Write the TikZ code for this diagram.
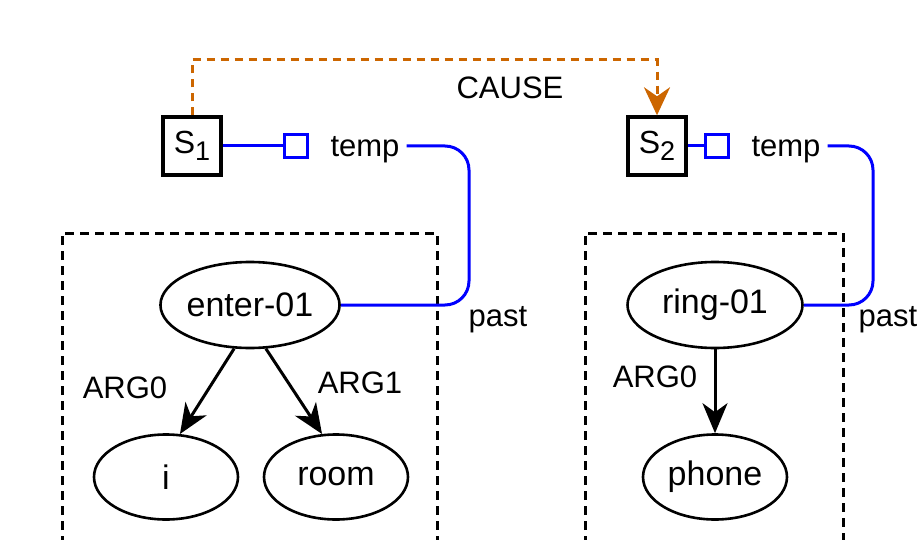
\documentclass[tikz,border=0pt]{standalone}
\usepackage{fontspec}
\setmainfont{Liberation Sans}
\usetikzlibrary{shapes.geometric,arrows.meta}
\definecolor{cause}{HTML}{CC6600}
\newcommand{\sidx}[1]{\raisebox{-0.45ex}{\fontsize{13.5}{14}\selectfont #1}}

\begin{document}
\begin{tikzpicture}[x=0.5pt,y=-0.5pt,
    concept/.style={draw,ellipse,line width=1.3pt,inner sep=0pt,minimum width=87.5pt,minimum height=43pt,font=\fontsize{17}{20}\selectfont},
    leaf/.style={concept,minimum width=72pt,minimum height=42.5pt},
    sbox/.style={draw,line width=1.7pt,inner sep=0pt,minimum size=29pt,font=\fontsize{16}{19}\selectfont},
    tsq/.style={draw=blue,line width=1.5pt,inner sep=0pt,minimum size=11.5pt},
    lbl/.style={font=\fontsize{15.5}{18}\selectfont},
    rel/.style={-{Stealth[length=15pt,width=12.5pt,inset=4.5pt]},line width=1.5pt},
    tline/.style={blue,line width=1.5pt,rounded corners=12pt},
    scope box/.style={line width=1.5pt,dash pattern=on 4.5pt off 3pt}]
\clip (0,0) rectangle (921,540);
\useasboundingbox (0,0) rectangle (921,540);
% sentence boxes
\node[sbox] (s1) at (192,146) {S\sidx{1}};
\node[sbox] (s2) at (657,146) {S\sidx{2}};
\node[tsq] (sq1) at (296,146) {};
\node[tsq] (sq2) at (717,146) {};
\node[lbl] (tmpa) at (365,150) {temp};
\node[lbl] (tmpb) at (786,150) {temp};
\draw[blue,line width=1.5pt] (s1.east) -- (sq1.west);
\draw[blue,line width=1.5pt] (s2.east) -- (sq2.west);
% cause
\coordinate (ca) at (192,60);
\coordinate (cb) at (657,60);
\draw[cause,line width=1.5pt,dash pattern=on 4pt off 3pt,-{Stealth[length=14pt,width=13pt,inset=4.5pt]}] (s1.north) -- (ca) -- (cb) -- (s2.north);
\node[lbl] (cause) at (510,88) {CAUSE};
% scopes
\draw[scope box] (62,560) -- (62,233) -- (437,233) -- (437,560);
\draw[scope box] (585,560) -- (585,233) -- (843,233) -- (843,560);
% graphs
\node[concept] (enter) at (250,305) {enter-01};
\node[leaf] (i) at (166,477) {i};
\node[leaf] (room) at (336,477) {room};
\node[concept] (ring) at (715,305) {ring-01};
\node[leaf] (phone) at (715,477) {phone};
\draw[rel] (enter.250) -- (i.72);
\draw[rel] (enter.290) -- (room.108);
\draw[rel] (ring.south) -- (phone.north);
\node[lbl] (arga) at (125,388) {ARG0};
\node[lbl] (argb) at (360,383) {ARG1};
\node[lbl] (argc) at (655,377) {ARG0};
% tense
\coordinate (bendA) at (469,305);
\coordinate (bendB) at (873,305);
\draw[tline] ([yshift=2pt]tmpa.east) -| (bendA) -- (enter.east);
\draw[tline] ([yshift=2pt]tmpb.east) -| (bendB) -- (ring.east);
\node[lbl] (pasta) at (498,320) {past};
\node[lbl] (pastb) at (888,320) {past};
\end{tikzpicture}
\end{document}
